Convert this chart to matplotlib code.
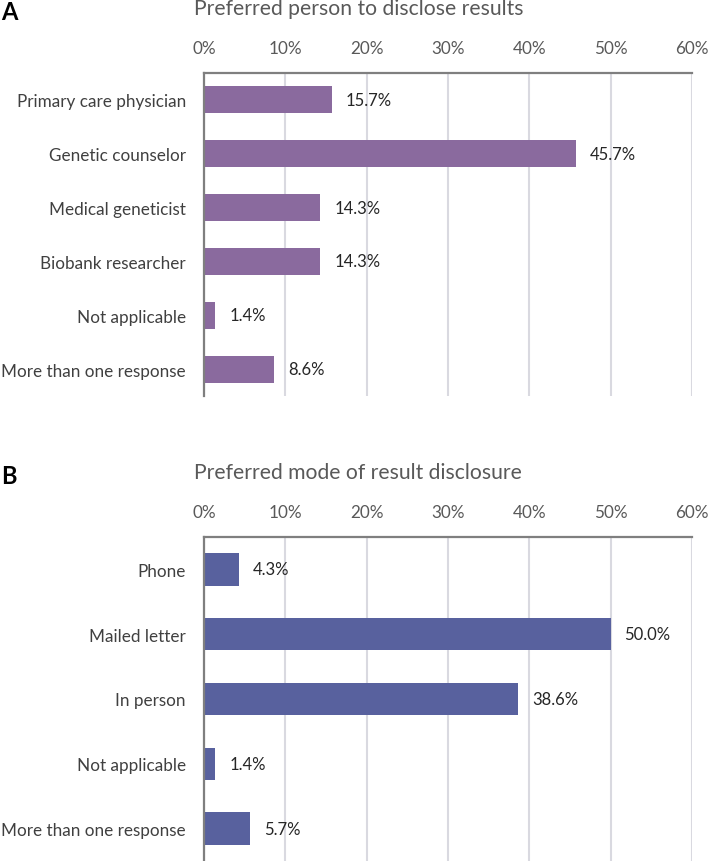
import matplotlib
matplotlib.use("Agg")
import matplotlib.pyplot as plt
from matplotlib.ticker import FuncFormatter

plt.rcParams["font.family"] = ["Lato", "DejaVu Sans"]

# panel A
cats_a = ["Primary care physician", "Genetic counselor", "Medical geneticist",
          "Biobank researcher", "Not applicable", "More than one response"]
vals_a = [15.7, 45.7, 14.3, 14.3, 1.4, 8.6]
title_a = "Preferred person to disclose results"

# panel B
cats_b = ["Phone", "Mailed letter", "In person", "Not applicable",
          "More than one response"]
vals_b = [4.3, 50.0, 38.6, 1.4, 5.7]
title_b = "Preferred mode of result disclosure"

ticks = [0, 10, 20, 30, 40, 50, 60]

W, H = 709, 862
fig = plt.figure(figsize=(W / 100, H / 100), dpi=100)


def panel(rect, cats, vals, color, title, letter, title_y, letter_y):
    ax = fig.add_axes(rect)
    y = list(range(len(cats)))
    ax.barh(y, vals, height=0.5, color=color, zorder=3)
    ax.set_ylim(len(cats) - 0.5, -0.5)
    ax.set_xlim(0, 60)
    ax.set_yticks(y)
    ax.set_yticklabels(cats, fontsize=12.3, color="#404040")
    ax.set_xticks(ticks)
    ax.xaxis.set_major_formatter(FuncFormatter(lambda v, p: f"{v:.0f}%"))
    ax.xaxis.tick_top()
    ax.tick_params(axis="x", length=0, pad=12.5, labelsize=12.3, labelcolor="#595959")
    ax.tick_params(axis="y", length=0, pad=13)
    ax.grid(axis="x", color="#d9d9e0", lw=1.5, zorder=0)
    for s in ("right", "bottom"):
        ax.spines[s].set_visible(False)
    for s in ("left", "top"):
        ax.spines[s].set_color("#7f7f7f")
        ax.spines[s].set_linewidth(1.6)
    ax.spines["left"].set_zorder(4)
    for yi, v in zip(y, vals):
        ax.annotate(f"{v:.1f}%", (v, yi), xytext=(10, 0), textcoords="offset points",
                    va="center", ha="left", fontsize=12, color="#262626")
    fig.text(194 / W, 1 - title_y / H, title, fontsize=15.2, color="#595959",
             va="center", ha="left")
    fig.text(1 / W, 1 - letter_y / H, letter, fontsize=17, fontweight="bold",
             va="center", ha="left", color="black")
    return ax


panel([204 / W, 1 - 397 / H, 488 / W, 323 / H], cats_a, vals_a, "#8a6a9e",
      title_a, "A", 9, 13)
panel([204 / W, 0, 488 / W, 324 / H], cats_b, vals_b, "#58619e",
      title_b, "B", 473, 477)

fig.savefig("out.png", dpi=100)
